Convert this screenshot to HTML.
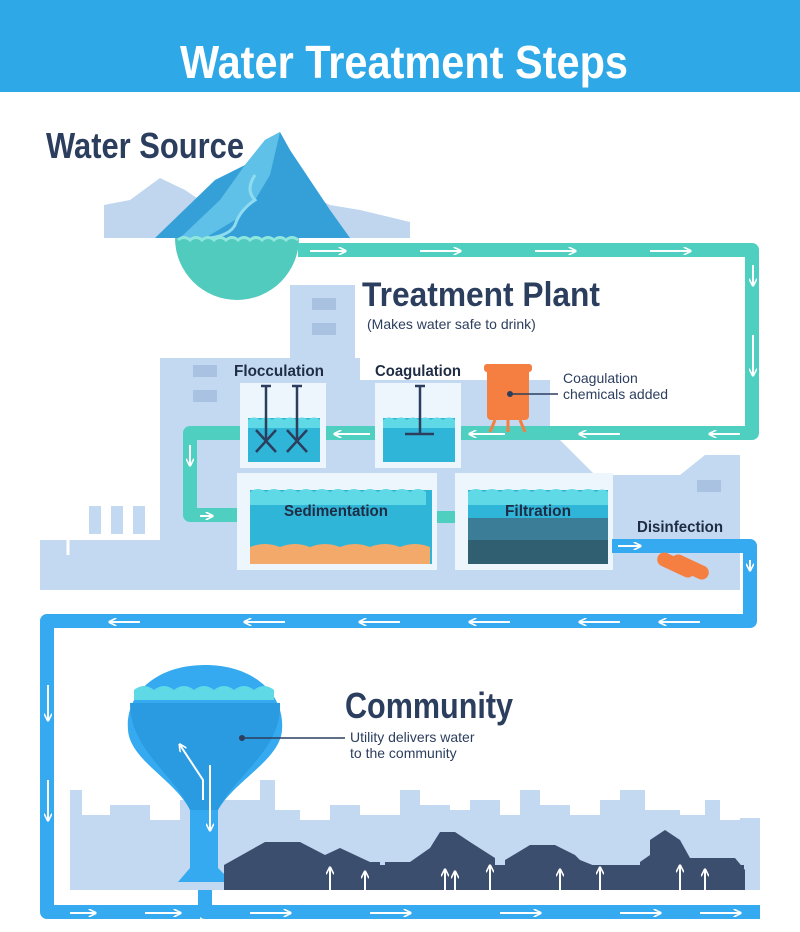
<!DOCTYPE html>
<html><head><meta charset="utf-8"><style>
html,body{margin:0;padding:0;background:#fff;width:800px;height:932px;overflow:hidden}
svg{display:block}
text{font-family:"Liberation Sans Narrow","Liberation Sans",sans-serif}
</style></head><body>
<svg width="800" height="932" viewBox="0 0 800 932" xmlns="http://www.w3.org/2000/svg">
<defs>
<marker id="a" viewBox="0 0 10 10" refX="8" refY="5" markerWidth="4" markerHeight="4" orient="auto"><path d="M0,0 L10,5 L0,10" fill="none" stroke="#fff" stroke-width="2"/></marker>
</defs>
<!-- header -->
<rect x="0" y="0" width="800" height="92" fill="#2ea8e6"/>
<text x="404" y="78" font-size="46" font-weight="bold" fill="#fff" text-anchor="middle" textLength="448" lengthAdjust="spacingAndGlyphs">Water Treatment Steps</text>

<!-- water source -->
<text x="46" y="158" font-size="36" font-weight="bold" fill="#2c3e5e" textLength="198" lengthAdjust="spacingAndGlyphs">Water Source</text>
<polygon points="104,238 104,205 130,200 160,178 185,190 200,200 230,175 250,195 300,190 330,205 360,210 410,222 410,238" fill="#bfd6ee"/>
<polygon points="155,238 215,180 245,165 265,140 280,132 290,150 300,165 310,180 330,210 350,238" fill="#35a0d8"/>
<polygon points="245,165 265,140 280,132 270,175 255,200 235,220 205,238 180,238 220,200" fill="#5fc1e8"/>
<path d="M255,175 q-10,15 0,25 q-15,10 -20,25 q-5,10 -25,13" stroke="#8fdcf0" stroke-width="3" fill="none"/>
<path d="M175,238 a62,62 0 0 0 124,0 z" fill="#52cbbf"/>
<path d="M178,240 q6,-5 12,0 q6,-5 12,0 q6,-5 12,0 q6,-5 12,0 q6,-5 12,0 q6,-5 12,0 q6,-5 12,0 q6,-5 12,0 q6,-5 12,0 q6,-5 12,0" stroke="#8fe6dc" stroke-width="3" fill="none"/>

<!-- building -->
<g fill="#c3d9f1">
<rect x="290" y="285" width="65" height="110"/>
<rect x="160" y="358" width="200" height="232"/>
<polygon points="355,380 550,380 550,430 620,500 620,590 355,590"/>
<rect x="580" y="475" width="160" height="115"/>
<polygon points="680,475 705,455 740,455 740,475"/>
<rect x="40" y="540" width="700" height="50"/>
</g>
<g fill="#a9c2e2">
<rect x="312" y="298" width="24" height="12"/><rect x="312" y="323" width="24" height="12"/>
<rect x="193" y="365" width="24" height="12"/><rect x="193" y="390" width="24" height="12"/>
<rect x="697" y="480" width="24" height="12"/>
</g>
<!-- side pipes -->
<g fill="none" stroke="#fff" stroke-width="3">
<path d="M160,425 H95 V520"/><path d="M160,445 H118 V520"/><path d="M160,465 H140 V520"/>
<path d="M90,520 H68 V555"/>
</g>
<g fill="#c3d9f1" stroke="#fff" stroke-width="2"><rect x="88" y="505" width="14" height="30"/><rect x="110" y="505" width="14" height="30"/><rect x="132" y="505" width="14" height="30"/></g>

<!-- teal pipe -->
<g fill="none" stroke="#4fcfc0" stroke-width="14" stroke-linejoin="round">
<path d="M298,250 H752 V433 H190 V515 H240"/>
</g>
<g stroke="#fff" stroke-width="2" marker-end="url(#a)" fill="none">
<line x1="310" y1="251" x2="345" y2="251"/><line x1="420" y1="251" x2="460" y2="251"/><line x1="535" y1="251" x2="575" y2="251"/><line x1="650" y1="251" x2="690" y2="251"/>
<line x1="753" y1="265" x2="753" y2="285"/><line x1="753" y1="335" x2="753" y2="375"/>
<line x1="740" y1="434" x2="710" y2="434"/><line x1="620" y1="434" x2="580" y2="434"/><line x1="505" y1="434" x2="470" y2="434"/><line x1="370" y1="434" x2="335" y2="434"/>
<line x1="190" y1="445" x2="190" y2="465"/><line x1="200" y1="516" x2="212" y2="516"/>
</g>
<text x="362" y="306" font-size="34" font-weight="bold" fill="#2c3e5e" textLength="238" lengthAdjust="spacingAndGlyphs">Treatment Plant</text>
<text x="367" y="329" font-size="14" fill="#2c3e5e" font-family="Liberation Sans">(Makes water safe to drink)</text>

<!-- tanks -->
<g>
<rect x="240" y="383" width="86" height="85" fill="#eef6fd"/>
<rect x="248" y="418" width="72" height="44" fill="#2fb5d8"/>
<path d="M248,420 q6,-5 12,0 q6,-5 12,0 q6,-5 12,0 q6,-5 12,0 q6,-5 12,0 q6,-5 12,0 V428 H248z" fill="#5fd9e6"/>
<g stroke="#2c3e5e" stroke-width="2.5"><line x1="266" y1="385" x2="266" y2="440"/><line x1="297" y1="385" x2="297" y2="440"/><line x1="261" y1="386" x2="271" y2="386"/><line x1="292" y1="386" x2="302" y2="386"/>
<line x1="256" y1="430" x2="276" y2="452"/><line x1="276" y1="430" x2="256" y2="452"/><line x1="287" y1="430" x2="307" y2="452"/><line x1="307" y1="430" x2="287" y2="452"/></g>
<rect x="375" y="383" width="86" height="85" fill="#eef6fd"/>
<rect x="383" y="418" width="72" height="44" fill="#2fb5d8"/>
<path d="M383,420 q6,-5 12,0 q6,-5 12,0 q6,-5 12,0 q6,-5 12,0 q6,-5 12,0 q6,-5 12,0 V428 H383z" fill="#5fd9e6"/>
<g stroke="#2c3e5e" stroke-width="2.5"><line x1="420" y1="385" x2="420" y2="433"/><line x1="415" y1="386" x2="425" y2="386"/><line x1="405" y1="434" x2="434" y2="434"/></g>
<rect x="237" y="473" width="200" height="97" fill="#eef6fd"/>
<rect x="250" y="490" width="182" height="74" fill="#2fb5d8"/>
<path d="M250,492 q8,-6 16,0 q8,-6 16,0 q8,-6 16,0 q8,-6 16,0 q8,-6 16,0 q8,-6 16,0 q8,-6 16,0 q8,-6 16,0 q8,-6 16,0 q8,-6 16,0 q8,-6 16,0 V505 H250z" fill="#5fd9e6"/>
<path d="M250,547 q15,-6 30,0 q15,-6 30,0 q15,-6 30,0 q15,-6 30,0 q15,-6 30,0 q15,-6 30,0 V564 H250z" fill="#f3a96a"/>
<rect x="455" y="473" width="158" height="97" fill="#eef6fd"/>
<rect x="468" y="490" width="140" height="74" fill="#2fb5d8"/>
<path d="M468,492 q8,-6 16,0 q8,-6 16,0 q8,-6 16,0 q8,-6 16,0 q8,-6 16,0 q8,-6 16,0 q8,-6 16,0 q8,-6 16,0 q6,-5 12,0 V505 H468z" fill="#5fd9e6"/>
<rect x="468" y="518" width="140" height="46" fill="#3b7d96"/>
<rect x="468" y="540" width="140" height="24" fill="#2f5f70"/>
<rect x="437" y="511" width="18" height="12" fill="#4fcfc0"/>
</g>
<g font-size="16" font-weight="bold" fill="#1f2d44">
<text x="234" y="376" textLength="90" lengthAdjust="spacingAndGlyphs">Flocculation</text>
<text x="375" y="376" textLength="86" lengthAdjust="spacingAndGlyphs">Coagulation</text>
<text x="284" y="516" textLength="104" lengthAdjust="spacingAndGlyphs">Sedimentation</text>
<text x="505" y="516" textLength="66" lengthAdjust="spacingAndGlyphs">Filtration</text>
<text x="637" y="532" textLength="86" lengthAdjust="spacingAndGlyphs">Disinfection</text>
</g>
<!-- coag tank -->
<rect x="487" y="368" width="42" height="52" rx="4" fill="#f57f40"/>
<rect x="484" y="364" width="48" height="8" rx="3" fill="#f57f40"/>
<g stroke="#f57f40" stroke-width="3"><line x1="495" y1="420" x2="490" y2="432"/><line x1="508" y1="420" x2="508" y2="432"/><line x1="520" y1="420" x2="525" y2="432"/></g>
<line x1="510" y1="394" x2="558" y2="394" stroke="#2c3e5e" stroke-width="1.5"/><circle cx="510" cy="394" r="3" fill="#2c3e5e"/>
<text x="563" y="383" font-size="14" fill="#2c3e5e" font-family="Liberation Sans">Coagulation</text>
<text x="563" y="399" font-size="14" fill="#2c3e5e" font-family="Liberation Sans">chemicals added</text>

<!-- blue pipe -->
<g fill="none" stroke="#35aaf0" stroke-width="14" stroke-linejoin="round">
<path d="M612,546 H750 V621 H47 V912 H200"/>
<path d="M205,880 V912 H760"/>
</g>
<g stroke="#fff" stroke-width="2" marker-end="url(#a)" fill="none">
<line x1="618" y1="546" x2="640" y2="546"/><line x1="750" y1="560" x2="750" y2="570"/>
<line x1="700" y1="622" x2="660" y2="622"/><line x1="620" y1="622" x2="580" y2="622"/><line x1="510" y1="622" x2="470" y2="622"/><line x1="400" y1="622" x2="360" y2="622"/><line x1="285" y1="622" x2="245" y2="622"/><line x1="140" y1="622" x2="110" y2="622"/>
<line x1="48" y1="685" x2="48" y2="720"/><line x1="48" y1="780" x2="48" y2="820"/>
<line x1="70" y1="913" x2="95" y2="913"/><line x1="145" y1="913" x2="180" y2="913"/>
<line x1="250" y1="913" x2="290" y2="913"/><line x1="370" y1="913" x2="410" y2="913"/><line x1="500" y1="913" x2="540" y2="913"/><line x1="620" y1="913" x2="660" y2="913"/><line x1="700" y1="913" x2="740" y2="913"/>
</g>
<!-- disinfection tanks -->
<g fill="#f57f40"><rect x="656" y="558" width="40" height="14" rx="7" transform="rotate(25 676 565)"/><rect x="670" y="560" width="40" height="14" rx="7" transform="rotate(25 690 567)"/></g>

<!-- skyline -->
<path d="M70,890 V790 H82 V815 H110 V805 H150 V820 H180 V800 H260 V780 H275 V810 H300 V820 H330 V805 H360 V815 H400 V790 H420 V805 H450 V810 H470 V800 H500 V815 H520 V790 H540 V805 H570 V815 H600 V800 H620 V790 H645 V810 H680 V815 H705 V800 H720 V820 H740 V818 H760 V890 Z" fill="#c3d9f1"/>
<!-- water tower -->
<path d="M205,665 C155,665 125,695 128,730 C130,760 175,780 190,810 V868 L178,882 H232 L218,868 V810 C235,780 280,760 282,730 C285,695 255,665 205,665 Z" fill="#35aaf0"/>
<path d="M134,690 q10,-8 20,0 q10,-8 20,0 q10,-8 20,0 q10,-8 20,0 q10,-8 20,0 q10,-8 20,0 q10,-8 20,0 V700 H134z" fill="#5fd9e6"/>
<path d="M130,703 H280 C282,750 235,775 218,810 H190 C175,775 130,750 130,703Z" fill="#2a9be0"/>
<g stroke="#fff" stroke-width="2" fill="none" marker-end="url(#a)"><path d="M203,800 V780 L180,745"/><path d="M210,765 V830"/></g>
<line x1="242" y1="738" x2="345" y2="738" stroke="#2c3e5e" stroke-width="1.5"/><circle cx="242" cy="738" r="3" fill="#2c3e5e"/>
<text x="345" y="718" font-size="36" font-weight="bold" fill="#2c3e5e" textLength="168" lengthAdjust="spacingAndGlyphs">Community</text>
<text x="350" y="742" font-size="14" fill="#2c3e5e" font-family="Liberation Sans">Utility delivers water</text>
<text x="350" y="758" font-size="14" fill="#2c3e5e" font-family="Liberation Sans">to the community</text>
<!-- houses -->
<g fill="#3b4e6e">
<polygon points="224,890 224,865 265,842 300,842 325,855 340,848 370,862 380,862 380,890"/>
<polygon points="385,890 385,862 410,862 430,848 440,832 455,832 470,842 495,858 495,890"/>
<polygon points="505,890 505,860 530,845 555,845 575,855 580,860 600,868 600,890"/>
<polygon points="640,890 640,862 650,855 650,840 665,830 680,840 690,858 735,858 745,870 745,890"/>
<rect x="224" y="865" width="520" height="25"/>
</g>
<g stroke="#fff" stroke-width="2" fill="none" marker-end="url(#a)">
<path d="M330,905 V868"/><path d="M345,900 H365 V872"/><path d="M455,905 V872"/><path d="M445,900 V870"/><path d="M490,900 V866"/><path d="M560,900 V870"/><path d="M600,905 V868"/><path d="M680,905 V866"/><path d="M705,900 V870"/>
</g>
</svg>
</body></html>
